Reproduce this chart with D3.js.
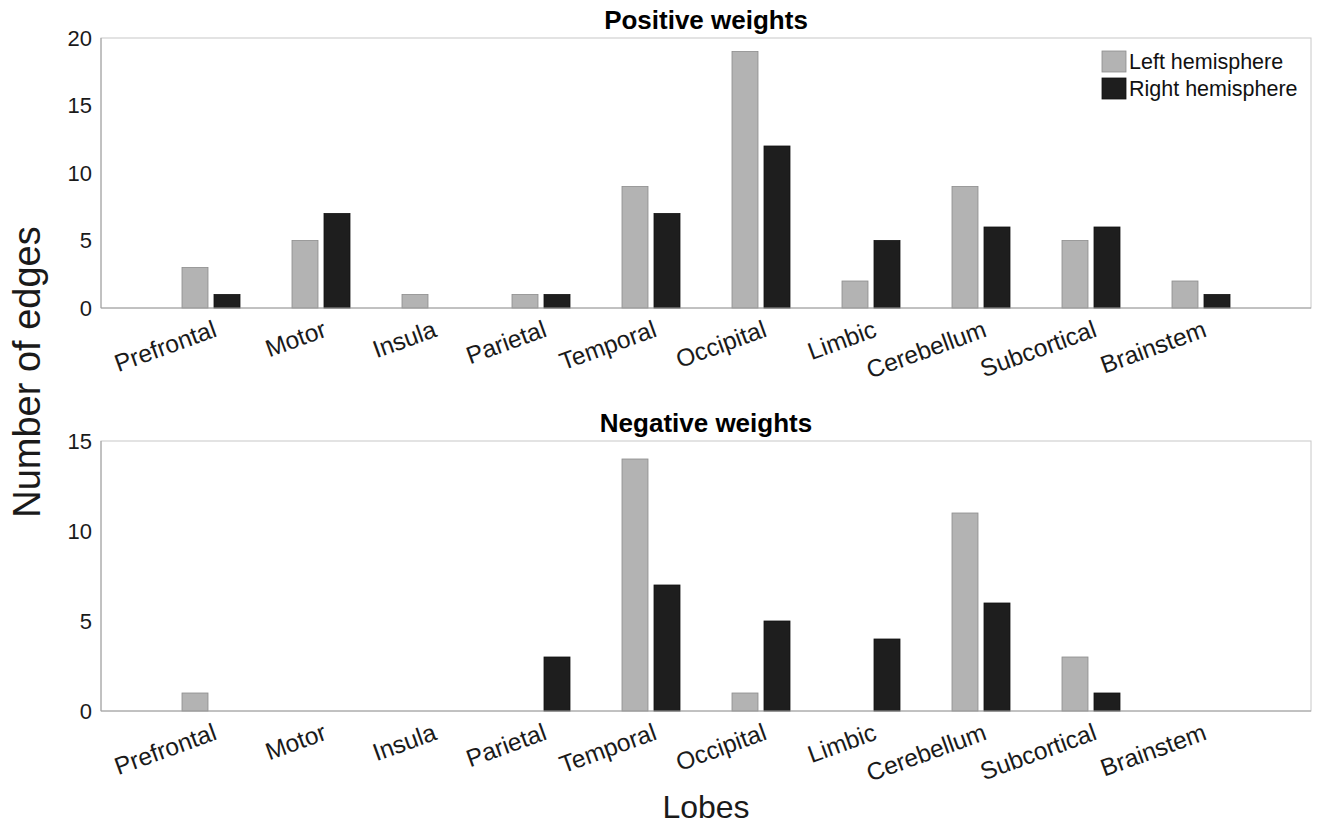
<!DOCTYPE html>
<html><head><meta charset="utf-8">
<script src="https://cdn.jsdelivr.net/npm/d3@7"></script>
<style>body{margin:0;background:#fff}svg{display:block}text{font-family:"Liberation Sans",Arial,Helvetica,sans-serif}</style>
</head><body>
<script>
const categories = ["Prefrontal","Motor","Insula","Parietal","Temporal","Occipital","Limbic","Cerebellum","Subcortical","Brainstem"];
const seriesNames = ["Left hemisphere","Right hemisphere"];
const posLeft  = [3,5,1,1,9,19,2,9,5,2];
const posRight = [1,7,0,1,7,12,5,6,6,1];
const negLeft  = [1,0,0,0,14,1,0,11,3,0];
const negRight = [0,0,0,3,7,5,4,6,1,0];
const posTicks = [0,5,10,15,20];
const negTicks = [0,5,10,15];
const colors = ["#b3b3b3","#1e1e1e"];
const strokes = ["#8c8c8c","#111"];

const W=1321,H=825;
const svg=d3.select("body").append("svg").attr("width",W).attr("height",H);
const x=d3.scaleLinear().domain([0,categories.length+1]).range([101,1311]);
const barW=26, off=16;
const FONT="Liberation Sans, Arial, sans-serif";

function panel(top,bottom,ymax,ticks,left,right,title){
  const y=d3.scaleLinear().domain([0,ymax]).range([bottom,top]);
  const g=svg.append("g");
  g.append("rect").attr("x",x.range()[0]).attr("y",top).attr("width",x.range()[1]-x.range()[0]).attr("height",bottom-top)
   .attr("fill","none").attr("stroke","#c8c8c8").attr("stroke-width",1);
  [left,right].forEach((vals,si)=>{
    g.selectAll(null).data(vals.map((v,i)=>({v,i}))).enter().filter(d=>d.v>0).append("rect")
     .attr("x",d=>x(d.i+1)+(si?off:-off)-barW/2).attr("width",barW)
     .attr("y",d=>y(d.v)).attr("height",d=>y(0)-y(d.v))
     .attr("fill",colors[si]).attr("stroke",strokes[si]).attr("stroke-width",0.8);
  });
  g.append("line").attr("x1",x.range()[0]).attr("x2",x.range()[1]).attr("y1",bottom).attr("y2",bottom).attr("stroke","#a0a0a0");
  g.append("line").attr("x1",x.range()[0]).attr("x2",x.range()[0]).attr("y1",top).attr("y2",bottom).attr("stroke","#a0a0a0");
  const ya=d3.axisLeft(y).tickValues(ticks).tickSize(0).tickPadding(9);
  const ag=g.append("g").attr("transform",`translate(${x.range()[0]},0)`).call(ya);
  ag.select(".domain").remove();
  ag.attr("font-size",22).attr("font-family",FONT);
  ag.selectAll("text").attr("fill","#1a1a1a");
  g.selectAll(null).data(categories).enter().append("text")
   .attr("transform",(d,i)=>`translate(${x(i+1)+7},${bottom+28}) rotate(-20)`)
   .attr("text-anchor","end").attr("font-size",24.5).attr("fill","#1a1a1a").text(d=>d);
  g.append("text").attr("x",(x.range()[0]+x.range()[1])/2).attr("y",top-9).attr("text-anchor","middle")
   .attr("font-size",26).attr("font-weight","bold").attr("fill","#000").text(title);
  return y;
}
panel(38,308,20,posTicks,posLeft,posRight,"Positive weights");
panel(441,711,15,negTicks,negLeft,negRight,"Negative weights");

const lg=svg.append("g");
seriesNames.forEach((n,i)=>{
  lg.append("rect").attr("x",1102).attr("y",51+i*27).attr("width",24).attr("height",21)
    .attr("fill",colors[i]).attr("stroke",strokes[i]).attr("stroke-width",0.8);
  lg.append("text").attr("x",1129).attr("y",69+i*27).attr("font-size",21.5).attr("fill","#111").text(n);
});
svg.append("text").attr("transform","translate(40,372) rotate(-90)").attr("text-anchor","middle")
  .attr("font-size",38).attr("fill","#1a1a1a").text("Number of edges");
svg.append("text").attr("x",706).attr("y",818).attr("text-anchor","middle").attr("font-size",32).attr("fill","#1a1a1a").text("Lobes");
</script>
</body></html>
